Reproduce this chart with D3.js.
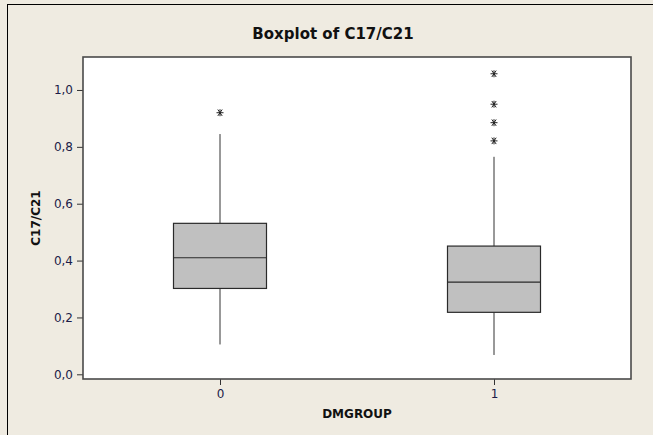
<!DOCTYPE html>
<html>
<head>
<meta charset="utf-8">
<script src="https://cdn.jsdelivr.net/npm/d3@7"></script>
<style>
  body { margin: 0; background: #efebe1; }
  svg { display: block; }
</style>
</head>
<body>
<script>
// values
var groups = ["0", "1"];
var whiskerLow = [0.105, 0.068];
var q1 = [0.302, 0.218];
var median = [0.410, 0.324];
var q3 = [0.531, 0.451];
var whiskerHigh = [0.845, 0.765];
var outliers = [[0.920], [1.057, 0.950, 0.885, 0.821]];
var yTicks = [0, 0.2, 0.4, 0.6, 0.8, 1.0];

var W = 653, H = 435;
var margin = { top: 57, right: 22, bottom: 56, left: 83 };
var width = W - margin.left - margin.right;
var height = H - margin.top - margin.bottom;

var svg = d3.select("body").append("svg")
    .attr("width", W)
    .attr("height", H);

// outer frame (left + top edges visible)
svg.append("rect").attr("width", W).attr("height", H).attr("fill", "#efebe1");
svg.append("line").attr("x1", 7.5).attr("x2", 7.5).attr("y1", 4).attr("y2", H).attr("stroke", "#000");
svg.append("line").attr("x1", 7).attr("x2", W).attr("y1", 4.5).attr("y2", 4.5).attr("stroke", "#000");

svg.append("text")
    .attr("x", 333)
    .attr("y", 39)
    .attr("text-anchor", "middle")
    .style("font-family", "DejaVu Sans")
    .style("font-weight", "bold")
    .style("font-size", "15px")
    .attr("fill", "#111")
    .text("Boxplot of C17/C21");

var g = svg.append("g")
    .attr("transform", "translate(" + margin.left + "," + margin.top + ")");

var x = d3.scalePoint().domain(groups).range([0, width]).padding(0.5);
var y = d3.scaleLinear().domain([-0.0165, 1.116]).range([height, 0]);
var boxW = 93;

g.append("rect")
    .attr("width", width)
    .attr("height", height)
    .attr("fill", "#fff");

var fmt = function(d) { return d3.format(".1f")(d).replace(".", ","); };

var yAxis = g.append("g")
    .call(d3.axisLeft(y).tickValues(yTicks).tickFormat(fmt).tickSize(6).tickPadding(4));
var xAxis = g.append("g")
    .attr("transform", "translate(0," + height + ")")
    .call(d3.axisBottom(x).tickSize(6).tickPadding(4));

[yAxis, xAxis].forEach(function(a) {
    a.select(".domain").remove();
    a.selectAll(".tick line").attr("stroke", "#333");
    a.selectAll(".tick text")
        .attr("fill", "#1c1c48")
        .style("font-family", "DejaVu Sans")
        .style("font-size", "12px");
});

// plot border
g.append("rect")
    .attr("width", width)
    .attr("height", height)
    .attr("fill", "none")
    .attr("stroke", "#4a4a4a")
    .attr("stroke-width", 1.6);

var boxes = g.selectAll(".box").data(groups).enter().append("g")
    .attr("class", "box")
    .attr("transform", function(d) { return "translate(" + x(d) + ",0)"; });

boxes.append("line")
    .attr("x1", 0).attr("x2", 0)
    .attr("y1", function(d, i) { return y(whiskerHigh[i]); })
    .attr("y2", function(d, i) { return y(q3[i]); })
    .attr("stroke", "#333");
boxes.append("line")
    .attr("x1", 0).attr("x2", 0)
    .attr("y1", function(d, i) { return y(q1[i]); })
    .attr("y2", function(d, i) { return y(whiskerLow[i]); })
    .attr("stroke", "#333");

boxes.append("rect")
    .attr("x", -boxW / 2)
    .attr("width", boxW)
    .attr("y", function(d, i) { return y(q3[i]); })
    .attr("height", function(d, i) { return y(q1[i]) - y(q3[i]); })
    .attr("fill", "#c0c0c0")
    .attr("stroke", "#2a2a2a")
    .attr("stroke-width", 1.2);

boxes.append("line")
    .attr("x1", -boxW / 2).attr("x2", boxW / 2)
    .attr("y1", function(d, i) { return y(median[i]); })
    .attr("y2", function(d, i) { return y(median[i]); })
    .attr("stroke", "#2a2a2a")
    .attr("stroke-width", 1.2);

// asterisk outliers
var star = "M-3.5,0L3.5,0M-2.2,-3.2L2.2,3.2M-2.2,3.2L2.2,-3.2M0,-3.5L0,3.5";
boxes.each(function(d, i) {
    d3.select(this).selectAll(".out").data(outliers[i]).enter().append("path")
        .attr("class", "out")
        .attr("transform", function(v) { return "translate(0," + y(v) + ")"; })
        .attr("d", star)
        .attr("stroke", "#222")
        .attr("stroke-width", 1);
});

svg.append("text")
    .attr("x", margin.left + width / 2)
    .attr("y", 418)
    .attr("text-anchor", "middle")
    .style("font-family", "DejaVu Sans")
    .style("font-weight", "bold")
    .style("font-size", "12px")
    .attr("fill", "#111")
    .text("DMGROUP");

svg.append("text")
    .attr("transform", "translate(40," + (margin.top + height / 2) + ") rotate(-90)")
    .attr("text-anchor", "middle")
    .style("font-family", "DejaVu Sans")
    .style("font-weight", "bold")
    .style("font-size", "12px")
    .attr("fill", "#111")
    .text("C17/C21");
</script>
</body>
</html>
